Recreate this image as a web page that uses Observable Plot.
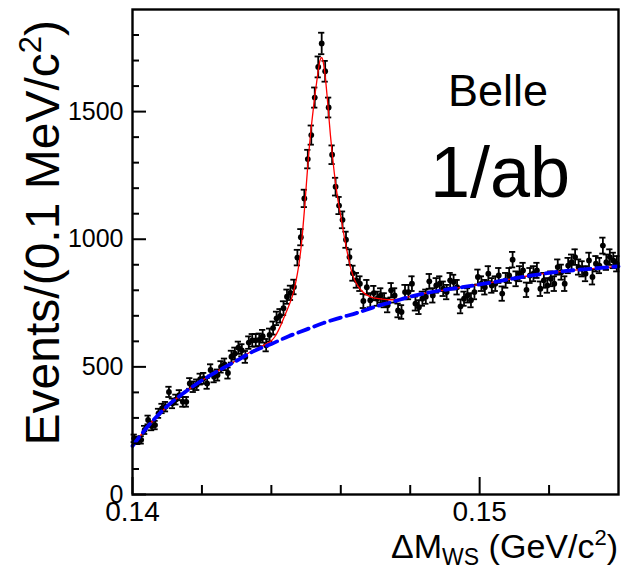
<!DOCTYPE html>
<html><head><meta charset="utf-8">
<script src="https://cdn.jsdelivr.net/npm/d3@7"></script>
<script src="https://cdn.jsdelivr.net/npm/@observablehq/plot@0.6"></script>
<style>body{margin:0;background:#fff;} svg{display:block}</style>
</head><body><div id="chart"></div>
<script>
// Histogram: 0.1 MeV bins from 0.140 GeV
const binStart = 0.14;
const binWidth = 0.0001;
const counts = [
  220, 212, 214, 253, 292, 268, 272, 318, 337, 344,
  402, 357, 372, 389, 363, 363, 435, 422, 430, 452,
  455, 435, 488, 461, 468, 500, 510, 476, 540, 552,
  575, 565, 539, 595, 604, 604, 606, 620, 585, 625,
  652, 690, 700, 730, 775, 790, 813, 928, 1008, 1160,
  1314, 1408, 1555, 1675, 1767, 1658, 1516, 1331, 1206, 1132,
  1076, 998, 930, 867, 839, 826, 758, 812, 761, 789,
  767, 780, 761, 741, 800, 780, 721, 715, 793, 793,
  826, 748, 734, 767, 775, 835, 780, 819, 826, 806,
  793, 839, 832, 812, 737, 767, 780, 761, 793, 852,
  826, 812, 865, 819, 826, 858, 787, 839, 858, 920,
  845, 865, 878, 802, 858, 865, 878, 806, 839, 819,
  845, 826, 891, 871, 826, 897, 910, 930, 891, 884,
  865, 917, 852, 904, 897, 975, 910, 930, 917, 904
];

// Background fit (blue dashed)
const bkgX = [0.1400, 0.1405, 0.1410, 0.1415, 0.1420, 0.1425, 0.1430, 0.1435, 0.1440, 0.1445,
              0.1450, 0.1455, 0.1460, 0.1465, 0.1470, 0.1475, 0.1480, 0.1485, 0.1490, 0.1495,
              0.1500, 0.1505, 0.1510, 0.1515, 0.1520, 0.1525, 0.1530, 0.1535, 0.1540];
const bkgY = [190, 276, 346, 400, 447, 487, 524, 562, 590, 620,
              646, 672, 693, 713, 736, 755, 775, 790, 802, 812,
              823, 834, 847, 858, 868, 876, 882, 888, 894];

// Total fit (red solid)
const totX = [0.1400, 0.1405, 0.1410, 0.1415, 0.1420, 0.1425, 0.1430, 0.1435, 0.1438, 0.1440,
              0.1441, 0.1442, 0.1443, 0.1444, 0.1445, 0.1446, 0.14465, 0.1447, 0.14475, 0.1448,
              0.14485, 0.1449, 0.14495, 0.1450, 0.14505, 0.1451, 0.14515, 0.1452, 0.14525, 0.1453,
              0.14535, 0.1454, 0.14545, 0.1455, 0.14555, 0.1456, 0.14565, 0.1457, 0.14575, 0.1458,
              0.14585, 0.1459, 0.14595, 0.1460, 0.1461, 0.1462, 0.1463, 0.1464, 0.1465, 0.1466,
              0.1467, 0.1468, 0.1469, 0.1470, 0.1472, 0.1474, 0.1476, 0.1478, 0.1480, 0.1485,
              0.1490, 0.1495, 0.1500, 0.1505, 0.1510, 0.1515, 0.1520, 0.1525, 0.1530, 0.1535, 0.1540];
const totY = [190, 276, 346, 400, 447, 487, 526, 566, 586, 602,
              618, 642, 672, 705, 738, 775, 800, 830, 865, 908,
              960, 1030, 1110, 1200, 1290, 1370, 1440, 1500, 1560, 1610,
              1660, 1700, 1712, 1690, 1640, 1570, 1490, 1410, 1340, 1275,
              1220, 1170, 1128, 1090, 1010, 940, 880, 840, 815, 798,
              786, 778, 772, 769, 765, 763, 764, 768, 776, 790,
              802, 812, 823, 834, 847, 858, 868, 876, 882, 888, 894];

const xMajorTicks = [0.14, 0.15];
const xTickLabels = ["0.14", "0.15"];
const xMinorTicks = [0.142, 0.144, 0.146, 0.148, 0.152];
const yMajorTicks = [0, 500, 1000, 1500];
const yTickLabels = ["0", "500", "1000", "1500"];
const yMinorTicks = [100, 200, 300, 400, 600, 700, 800, 900, 1100, 1200, 1300, 1400, 1600, 1700, 1800];

const W = 621, H = 570;
const mL = 132, mR = 3, mT = 9, mB = 76;
const innerW = W - mL - mR, innerH = H - mT - mB;

const points = counts.map((n, i) => ({x: binStart + binWidth * (i + 0.5), y: n, e: Math.sqrt(n)}));
const capHalf = binWidth * 0.9;
const bkg = bkgX.map((x, i) => ({x, y: bkgY[i]}));
const tot = totX.map((x, i) => ({x, y: totY[i]}));
const font = "Liberation Sans, Arial, Helvetica, sans-serif";

const chart = Plot.plot({
  width: W, height: H,
  marginLeft: mL, marginRight: mR, marginTop: mT, marginBottom: mB,
  style: {fontFamily: font, background: "white"},
  x: {domain: [0.14, 0.154], axis: null},
  y: {domain: [0, 1900], axis: null},
  marks: [
    Plot.ruleX(points, {x: "x", y1: d => d.y - d.e, y2: d => d.y + d.e, stroke: "black", strokeWidth: 1.8}),
    Plot.ruleY(points, {y: d => d.y + d.e, x1: d => d.x - capHalf, x2: d => d.x + capHalf, stroke: "black", strokeWidth: 1.8}),
    Plot.ruleY(points, {y: d => d.y - d.e, x1: d => d.x - capHalf, x2: d => d.x + capHalf, stroke: "black", strokeWidth: 1.8}),
    Plot.dot(points, {x: "x", y: "y", r: 2.9, fill: "black", stroke: "none"}),
    Plot.line(tot, {x: "x", y: "y", stroke: "#ff0000", strokeWidth: 1.3, curve: "monotone-x"}),
    Plot.line(bkg, {x: "x", y: "y", stroke: "#0000ff", strokeWidth: 3.8, strokeDasharray: "11,6", curve: "monotone-x"}),
    Plot.tickY(yMajorTicks, {y: d => d, insetRight: innerW - 14, stroke: "black", strokeWidth: 2}),
    Plot.tickY(yMinorTicks, {y: d => d, insetRight: innerW - 7, stroke: "black", strokeWidth: 2}),
    Plot.tickX(xMajorTicks, {x: d => d, insetTop: innerH - 17, stroke: "black", strokeWidth: 2}),
    Plot.tickX(xMinorTicks, {x: d => d, insetTop: innerH - 9, stroke: "black", strokeWidth: 2}),
    Plot.frame({stroke: "black", strokeWidth: 2.4}),
    Plot.text(yMajorTicks, {y: d => d, frameAnchor: "left", text: (d, i) => yTickLabels[i], textAnchor: "end", dx: -9, fontSize: 25, fill: "black"}),
    Plot.text(xMajorTicks, {x: d => d, frameAnchor: "bottom", text: (d, i) => xTickLabels[i], dy: 26, fontSize: 28, fill: "black"})
  ]
});
document.getElementById("chart").appendChild(chart);

const svg = d3.select(chart);
// Y title
const yt = svg.append("text")
  .attr("transform", "translate(59,20) rotate(-90)")
  .attr("text-anchor", "end")
  .attr("font-family", font).attr("font-size", 48).attr("fill", "black");
yt.append("tspan").text("Events/(0.1 MeV/c");
yt.append("tspan").attr("dy", -18).attr("font-size", 31).text("2");
yt.append("tspan").attr("dy", 18).text(")");

// X title
const xt = svg.append("text")
  .attr("x", 618).attr("y", 558)
  .attr("text-anchor", "end")
  .attr("font-family", font).attr("font-size", 34).attr("fill", "black");
xt.append("tspan").text("\u0394M");
xt.append("tspan").attr("dy", 7).attr("font-size", 23).text("WS");
xt.append("tspan").attr("dy", -7).text(" (GeV/c");
xt.append("tspan").attr("dy", -13).attr("font-size", 22).text("2");
xt.append("tspan").attr("dy", 13).text(")");

// Annotations
svg.append("text").attr("x", 498).attr("y", 106).attr("text-anchor", "middle")
  .attr("font-family", font).attr("font-size", 45).attr("fill", "black").text("Belle");
svg.append("text").attr("x", 500).attr("y", 197).attr("text-anchor", "middle")
  .attr("font-family", font).attr("font-size", 72).attr("fill", "black").text("1/ab");
</script>
</body></html>
